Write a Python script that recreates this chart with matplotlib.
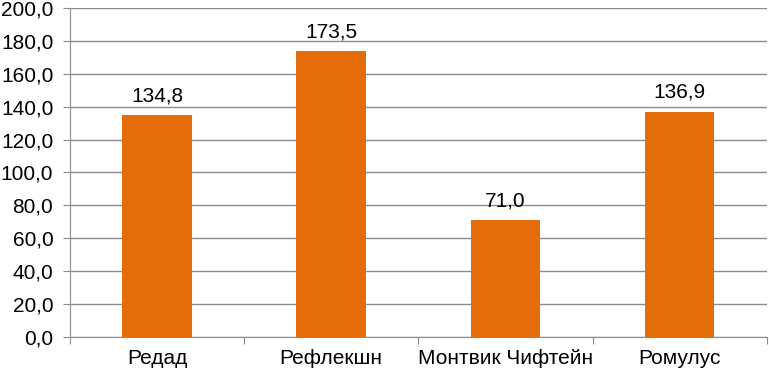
import matplotlib
matplotlib.use("Agg")
import matplotlib.pyplot as plt
import numpy as np

categories = ["Редад", "Рефлекшн", "Монтвик Чифтейн", "Ромулус"]
values = [134.8, 173.5, 71.0, 136.9]
y_ticks = [0, 20, 40, 60, 80, 100, 120, 140, 160, 180, 200]

plt.rcParams["font.family"] = ["Liberation Sans", "DejaVu Sans"]

fig = plt.figure(figsize=(7.69, 3.74), dpi=100)
ax = fig.add_axes([0.091, 0.099, 0.906, 0.880])

xs = np.arange(len(categories))
ax.bar(xs, values, width=0.4, color="#E46C0A", zorder=3)
for x, v in zip(xs, values):
    ax.annotate(f"{v:.1f}".replace(".", ","), (x, v), xytext=(0, 7),
                textcoords="offset points", ha="center", va="bottom", fontsize=15)

ax.set_xlim(-0.5, len(categories) - 0.5)
ax.set_ylim(0, 200)
ax.set_yticks(y_ticks)
ax.set_yticklabels([f"{t:.1f}".replace(".", ",") for t in y_ticks], fontsize=15)
ax.yaxis.grid(True, color="#8c8c8c", linewidth=1, zorder=0)

# category labels centred, tick marks between categories
ax.set_xticks(np.arange(-0.5, len(categories), 1.0))
ax.set_xticklabels([])
ax.set_xticks(xs, minor=True)
ax.set_xticklabels(categories, minor=True, fontsize=15)
ax.tick_params(axis="x", which="minor", length=0, pad=9)
ax.tick_params(axis="x", which="major", length=5, color="#8c8c8c")
ax.tick_params(axis="y", length=5, color="#8c8c8c", pad=7)

for s in ["top", "right"]:
    ax.spines[s].set_visible(False)
for s in ["left", "bottom"]:
    ax.spines[s].set_color("#8c8c8c")

fig.savefig("out.png", dpi=100)
